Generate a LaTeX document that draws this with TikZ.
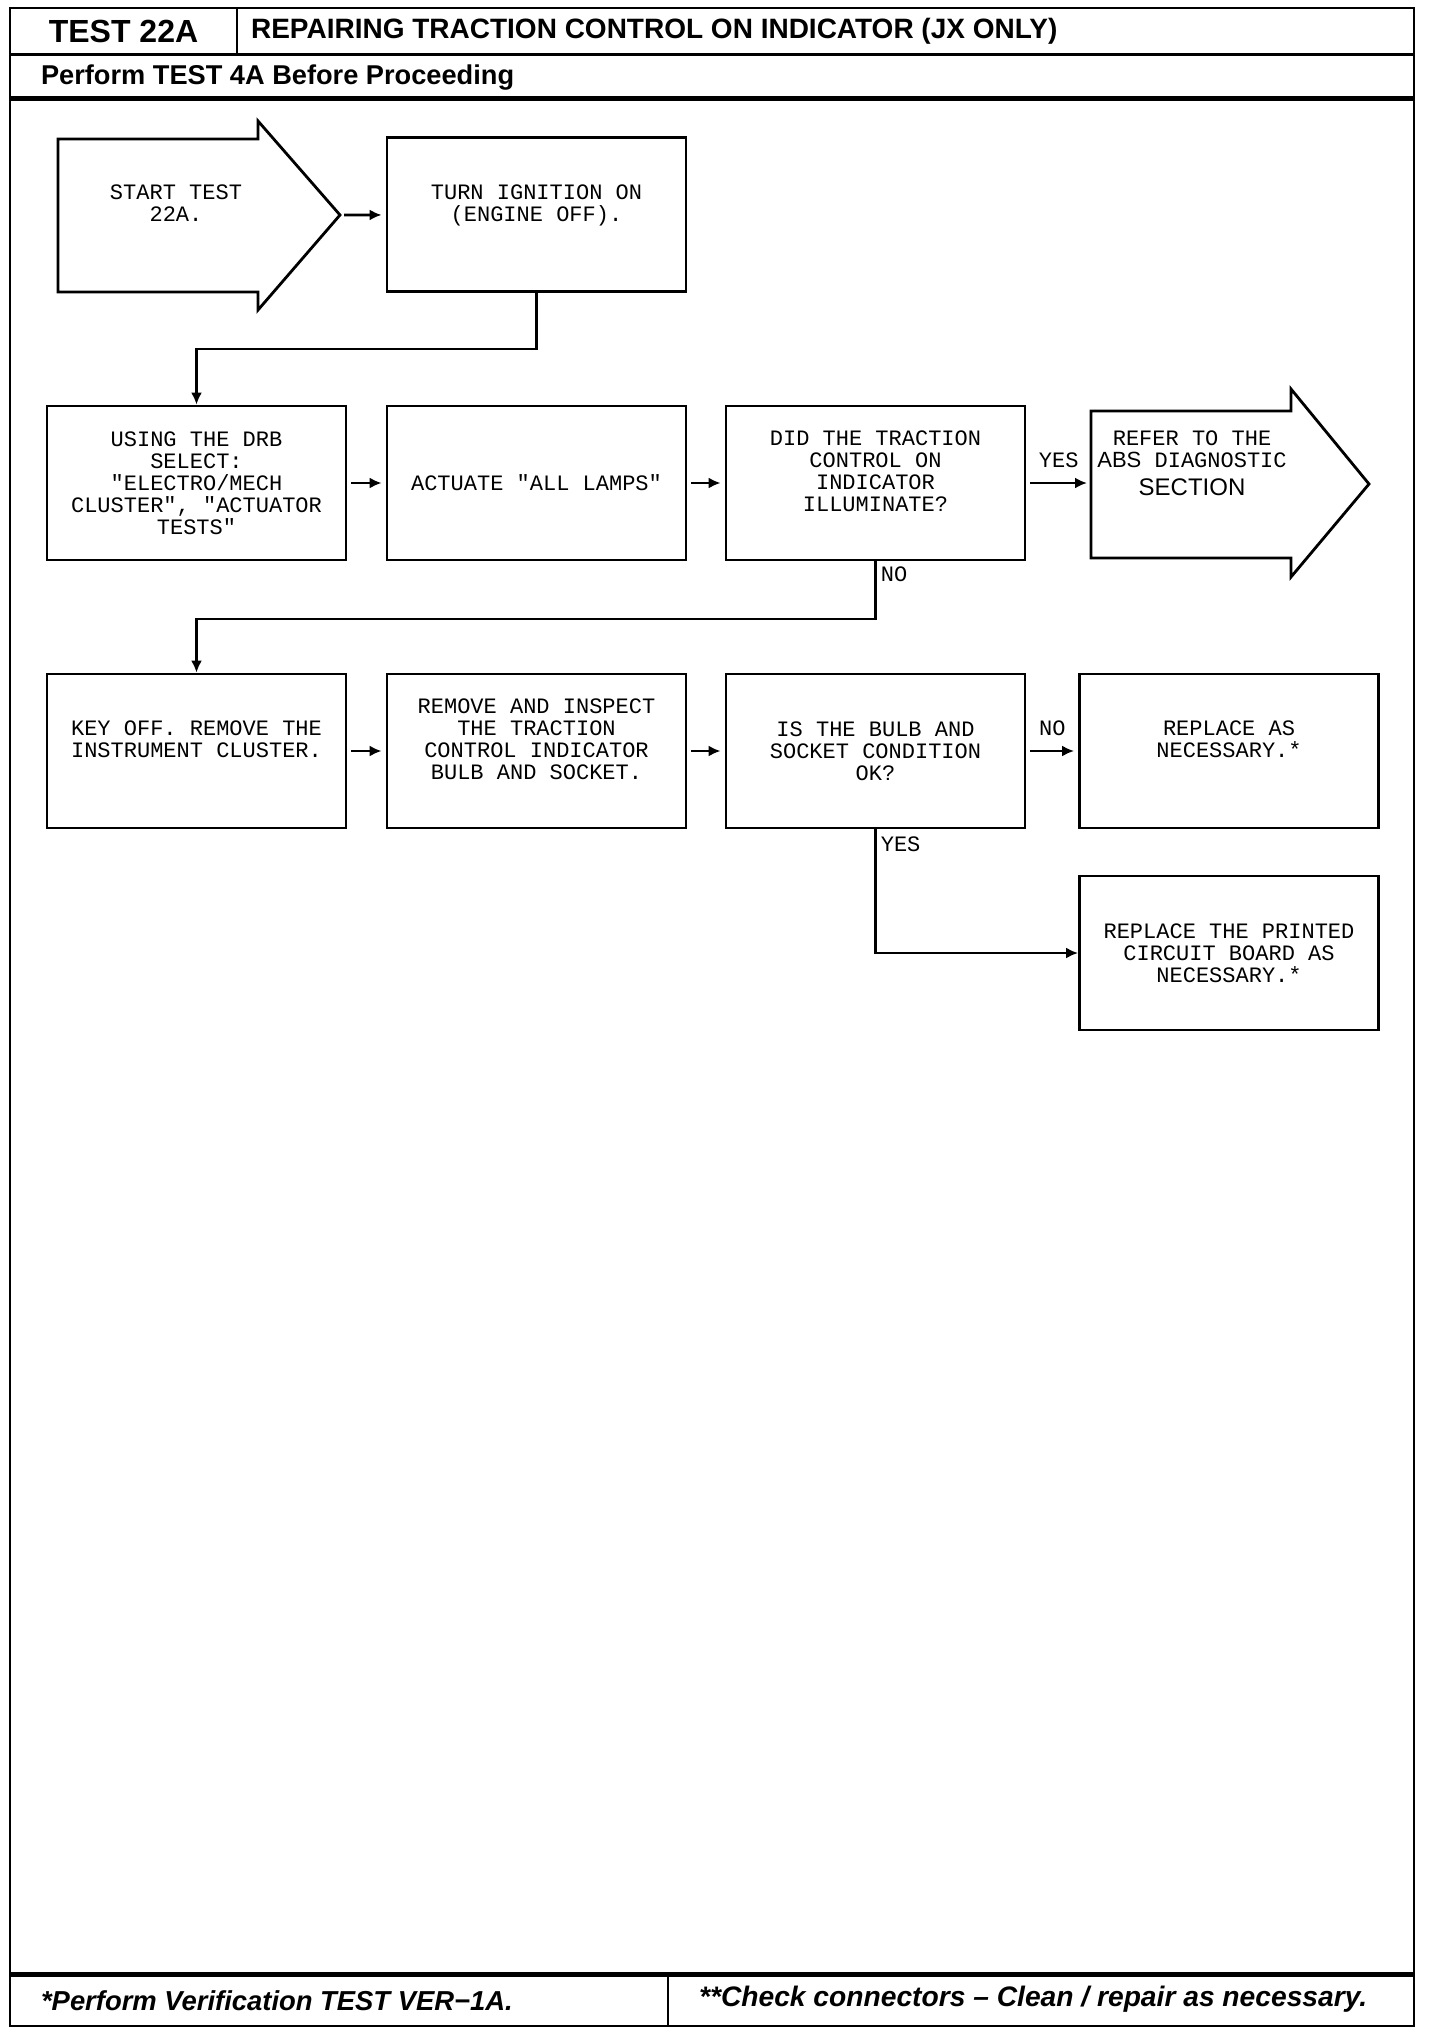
\documentclass[tikz,border=0pt]{standalone}
\usepackage{fontspec}
\setmainfont{Liberation Sans}
\newfontfamily\plotfont{Liberation Mono}
\newfontfamily\headfont{Liberation Sans}
\usetikzlibrary{arrows.meta, positioning}
\tikzset{
  box/.style={rectangle, draw, line width=1.4pt, minimum width=149.5pt, minimum height=77pt, align=center, inner sep=0pt, font=\plotfont\fontsize{11}{11}\selectfont},
  raised/.style={text depth=12pt},
  pointer/.style={draw, line width=1.4pt, line join=miter},
  tag/.style={font=\plotfont\fontsize{11}{11}\selectfont, inner sep=1pt, align=center},
  arrow/.style={-{Latex[length=6pt, width=5.5pt]}, line width=1.3pt, shorten <=2pt, shorten >=2pt},
  flow/.style={-{Latex[length=6pt, width=5.5pt]}, line width=1.3pt},
  frame/.style={line width=1.4pt},
  rule/.style={line width=2.4pt},
}
\begin{document}
\begin{tikzpicture}[x=0.5pt, y=-0.5pt]
  \useasboundingbox (0,0) rectangle (1440,2034);
  % page frame, header and footer
  \draw[frame] (10,8) rectangle (1414,2026);
  \draw[frame] (10,54.5) -- (1414,54.5);
  \draw[frame] (237,8) -- (237,54.5);
  \draw[rule] (10,98.5) -- (1414,98.5);
  \draw[rule] (10,1974.5) -- (1414,1974.5);
  \draw[frame] (668,1974.5) -- (668,2026);
  \node[font=\bfseries\fontsize{16}{16}\selectfont] (testno) at (123.5,31) {TEST 22A};
  \node[anchor=west, font=\bfseries\fontsize{14}{14}\selectfont] (title) at (244,31) {REPAIRING TRACTION CONTROL ON INDICATOR (JX ONLY)};
  \node[anchor=west, font=\bfseries\fontsize{13.6}{13.6}\selectfont] (prereq) at (34,78) {Perform TEST 4A Before Proceeding};
  \node[anchor=west, font=\bfseries\itshape\fontsize{13.7}{13.7}\selectfont] (verify) at (34,2001) {*Perform Verification TEST VER−1A.};
  \node[anchor=west, font=\bfseries\itshape\fontsize{14.1}{14.1}\selectfont] (connectors) at (692,1999) {**Check connectors – Clean / repair as necessary.};

  % start and exit arrows
  \draw[pointer] (58,139) -- (258,139) -- (258,121) -- (340,215) -- (258,310) -- (258,292) -- (58,292) -- cycle;
  \coordinate (starttip) at (340,215);
  \node[tag] (start) at (176,203) {START TEST\\22A.};
  \draw[pointer] (1091,411) -- (1291,411) -- (1291,389) -- (1369,484) -- (1291,577) -- (1291,558) -- (1091,558) -- cycle;
  \coordinate (refertail) at (1091,484);
  \node[tag] (refer) at (1192,463) {REFER TO THE\\{\headfont ABS} DIAGNOSTIC\\[3pt]{\headfont\fontsize{12}{12}\selectfont SECTION}};

  % steps
  \node[box, raised] (ignition) at (536.5,214.75) {TURN IGNITION ON\\(ENGINE OFF).};
  \node[box] (drb) at (196.5,483) {USING THE DRB\\SELECT:\\"ELECTRO/MECH\\CLUSTER", "ACTUATOR\\TESTS"};
  \node[box] (lamps) at (536.5,483) {ACTUATE "ALL LAMPS"};
  \node[box, raised] (illum) at (875.5,483) {DID THE TRACTION\\CONTROL ON\\INDICATOR\\ILLUMINATE?};
  \node[box, raised] (keyoff) at (196.5,751) {KEY OFF. REMOVE THE\\INSTRUMENT CLUSTER.};
  \node[box, raised] (inspect) at (536.5,751) {REMOVE AND INSPECT\\THE TRACTION\\CONTROL INDICATOR\\BULB AND SOCKET.};
  \node[box] (bulb) at (875.5,751) {IS THE BULB AND\\SOCKET CONDITION\\OK?};
  \node[box, raised] (replace) at (1229,751) {REPLACE AS\\NECESSARY.*};
  \node[box] (pcb) at (1229,953) {REPLACE THE PRINTED\\CIRCUIT BOARD AS\\NECESSARY.*};

  % connectors
  \draw[arrow] (starttip) -- (ignition);
  \draw[flow] (ignition.south) -- ++(0,55.7) -| (drb.north);
  \draw[arrow] (drb) -- (lamps);
  \draw[arrow] (lamps) -- (illum);
  \draw[arrow] (illum.east) -- node[tag, above=6pt] {YES} (illum.east -| refertail);
  \draw[flow] (illum.south) -- node[tag, right=1pt, pos=0.22] {NO} ++(0,57.5) -| (keyoff.north);
  \draw[arrow] (keyoff) -- (inspect);
  \draw[arrow] (inspect) -- (bulb);
  \draw[arrow] (bulb) -- node[tag, above=6pt] {NO} (replace);
  \draw[flow] (bulb.south) |- node[tag, right=1pt, pos=0.06] {YES} (pcb.west);
\end{tikzpicture}
\end{document}
